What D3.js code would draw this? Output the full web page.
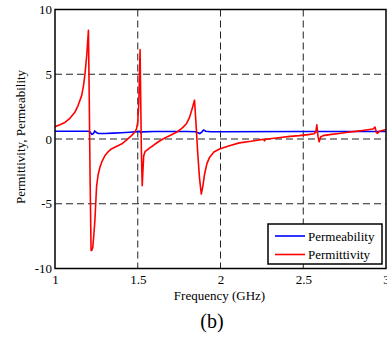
<!DOCTYPE html>
<html>
<head>
<meta charset="utf-8">
<script src="https://cdn.jsdelivr.net/npm/d3@7"></script>
<style>
  body { margin: 0; background: #fff; }
  svg { display: block; font-family: "Liberation Serif", "Times New Roman", serif; }
</style>
</head>
<body>
<div id="chart"></div>
<script>
// frequency (GHz) and values
const freqEps = [1.00, 1.03, 1.06, 1.09, 1.12, 1.14, 1.161, 1.172, 1.181, 1.192, 1.202, 1.207, 1.212, 1.218, 1.222, 1.228, 1.234, 1.241, 1.251, 1.26, 1.271, 1.285, 1.301, 1.32, 1.341, 1.37, 1.402, 1.43, 1.462, 1.48, 1.492, 1.5, 1.506, 1.514, 1.518, 1.522, 1.527, 1.531, 1.536, 1.545, 1.552, 1.57, 1.592, 1.62, 1.652, 1.683, 1.713, 1.745, 1.773, 1.795, 1.813, 1.83, 1.843, 1.852, 1.862, 1.873, 1.884, 1.894, 1.904, 1.918, 1.934, 1.96, 1.994, 2.054, 2.114, 2.185, 2.26, 2.266, 2.272, 2.35, 2.42, 2.476, 2.53, 2.566, 2.576, 2.582, 2.589, 2.596, 2.605, 2.62, 2.67, 2.717, 2.77, 2.817, 2.87, 2.92, 2.934, 2.942, 2.948, 2.96, 2.99, 3.0];
const permittivity = [0.95, 1.1, 1.28, 1.6, 2.06, 2.6, 3.35, 4.1, 5.0, 6.5, 8.4, 3.0, -3.0, -8.6, -8.6, -8.4, -7.5, -6.3, -3.7, -2.8, -2.2, -1.7, -1.3, -1.0, -0.77, -0.58, -0.39, -0.1, 0.26, 0.5, 0.77, 1.3, 2.7, 6.9, 3.0, -1.0, -3.6, -2.5, -1.3, -0.95, -0.9, -0.7, -0.52, -0.25, 0.0, 0.2, 0.38, 0.6, 0.9, 1.2, 1.67, 2.4, 3.0, 1.2, -1.0, -3.0, -4.25, -3.6, -2.7, -1.9, -1.42, -1.0, -0.77, -0.52, -0.3, -0.18, -0.02, -0.14, -0.02, 0.1, 0.2, 0.26, 0.34, 0.4, 0.55, 1.1, 0.2, -0.22, 0.15, 0.26, 0.36, 0.43, 0.52, 0.59, 0.68, 0.77, 0.92, 0.5, 0.43, 0.6, 0.7, 0.72];

const freqMu = [1.00, 1.10, 1.2, 1.212, 1.222, 1.232, 1.24, 1.25, 1.262, 1.3, 1.35, 1.4, 1.45, 1.5, 1.512, 1.518, 1.525, 1.6, 1.7, 1.8, 1.85, 1.875, 1.888, 1.898, 1.91, 1.94, 2.0, 2.5, 3.0];
const permeability = [0.6, 0.6, 0.6, 0.55, 0.36, 0.42, 0.62, 0.5, 0.42, 0.43, 0.45, 0.48, 0.52, 0.57, 0.59, 0.48, 0.55, 0.58, 0.58, 0.58, 0.56, 0.42, 0.55, 0.7, 0.6, 0.56, 0.56, 0.58, 0.58];

const xTicks = [1, 1.5, 2, 2.5, 3];
const yTicks = [-10, -5, 0, 5, 10];
const seriesNames = ['Permeability', 'Permittivity'];
const seriesColors = ['#0000ff', '#ff0000'];

const W = 387, H = 338;
const margin = { top: 9.5, right: 1, bottom: 70, left: 55 };
const width = W - margin.left - margin.right;
const height = 268.5 - margin.top;
const serif = '"Liberation Serif", "Times New Roman", serif';

const svg = d3.select('#chart').append('svg')
  .attr('width', W)
  .attr('height', H);

const g = svg.append('g')
  .attr('transform', 'translate(' + margin.left + ',' + margin.top + ')');

const x = d3.scaleLinear().domain([1, 3]).range([0, width]);
const y = d3.scaleLinear().domain([-10, 10]).range([height, 0]);

// dashed grid
g.append('g').selectAll('line')
  .data(xTicks.slice(1, -1))
  .enter().append('line')
  .attr('x1', d => x(d)).attr('x2', d => x(d))
  .attr('y1', 0).attr('y2', height)
  .attr('stroke', '#222').attr('stroke-width', 1)
  .attr('stroke-dasharray', '7,4');

g.append('g').selectAll('line')
  .data(yTicks.slice(1, -1))
  .enter().append('line')
  .attr('x1', 0).attr('x2', width)
  .attr('y1', d => y(d)).attr('y2', d => y(d))
  .attr('stroke', '#222').attr('stroke-width', 1)
  .attr('stroke-dasharray', '7,4');

g.append('clipPath').attr('id', 'clip')
  .append('rect').attr('width', width).attr('height', height);

const line = d3.line().x(d => x(d[0])).y(d => y(d[1]));

const plot = g.append('g').attr('clip-path', 'url(#clip)');
plot.append('path')
  .datum(freqMu.map((f, i) => [f, permeability[i]]))
  .attr('d', line)
  .attr('fill', 'none')
  .attr('stroke', seriesColors[0])
  .attr('stroke-width', 1.6);
plot.append('path')
  .datum(freqEps.map((f, i) => [f, permittivity[i]]))
  .attr('d', line)
  .attr('fill', 'none')
  .attr('stroke', seriesColors[1])
  .attr('stroke-width', 1.6)
  .attr('stroke-linejoin', 'round');

// axes
const xAxis = g.append('g')
  .attr('transform', 'translate(0,' + height + ')')
  .call(d3.axisBottom(x).tickValues(xTicks).tickSize(0).tickPadding(6).tickFormat(d => String(d)));
const yAxis = g.append('g')
  .call(d3.axisLeft(y).tickValues(yTicks).tickSize(0).tickPadding(3).tickFormat(d => String(d)));
[xAxis, yAxis].forEach(a => {
  a.attr('font-family', serif).attr('font-size', 13);
  a.select('.domain').remove();
  a.selectAll('text').attr('fill', '#000');
});

g.append('rect')
  .attr('width', width).attr('height', height)
  .attr('fill', 'none').attr('stroke', '#000').attr('stroke-width', 1.5);

// labels
svg.append('text')
  .attr('x', 219.5).attr('y', 300)
  .attr('text-anchor', 'middle').attr('font-size', 13)
  .text('Frequency (GHz)');

svg.append('text')
  .attr('transform', 'translate(25,137) rotate(-90)')
  .attr('text-anchor', 'middle').attr('font-size', 13)
  .text('Permittivity, Permeability');

svg.append('text')
  .attr('x', 212).attr('y', 328)
  .attr('text-anchor', 'middle').attr('font-size', 20)
  .text('(b)');

// legend
const legend = svg.append('g').attr('transform', 'translate(268,224)');
legend.append('rect')
  .attr('width', 114).attr('height', 40)
  .attr('fill', '#fff').attr('stroke', '#000').attr('stroke-width', 1.5);
seriesNames.forEach((name, i) => {
  const ly = 12 + i * 18.5;
  legend.append('line')
    .attr('x1', 7).attr('x2', 37)
    .attr('y1', ly).attr('y2', ly)
    .attr('stroke', seriesColors[i]).attr('stroke-width', 1.6);
  legend.append('text')
    .attr('x', 40).attr('y', ly + 4.5)
    .attr('font-size', 13)
    .text(name);
});
</script>
</body>
</html>
